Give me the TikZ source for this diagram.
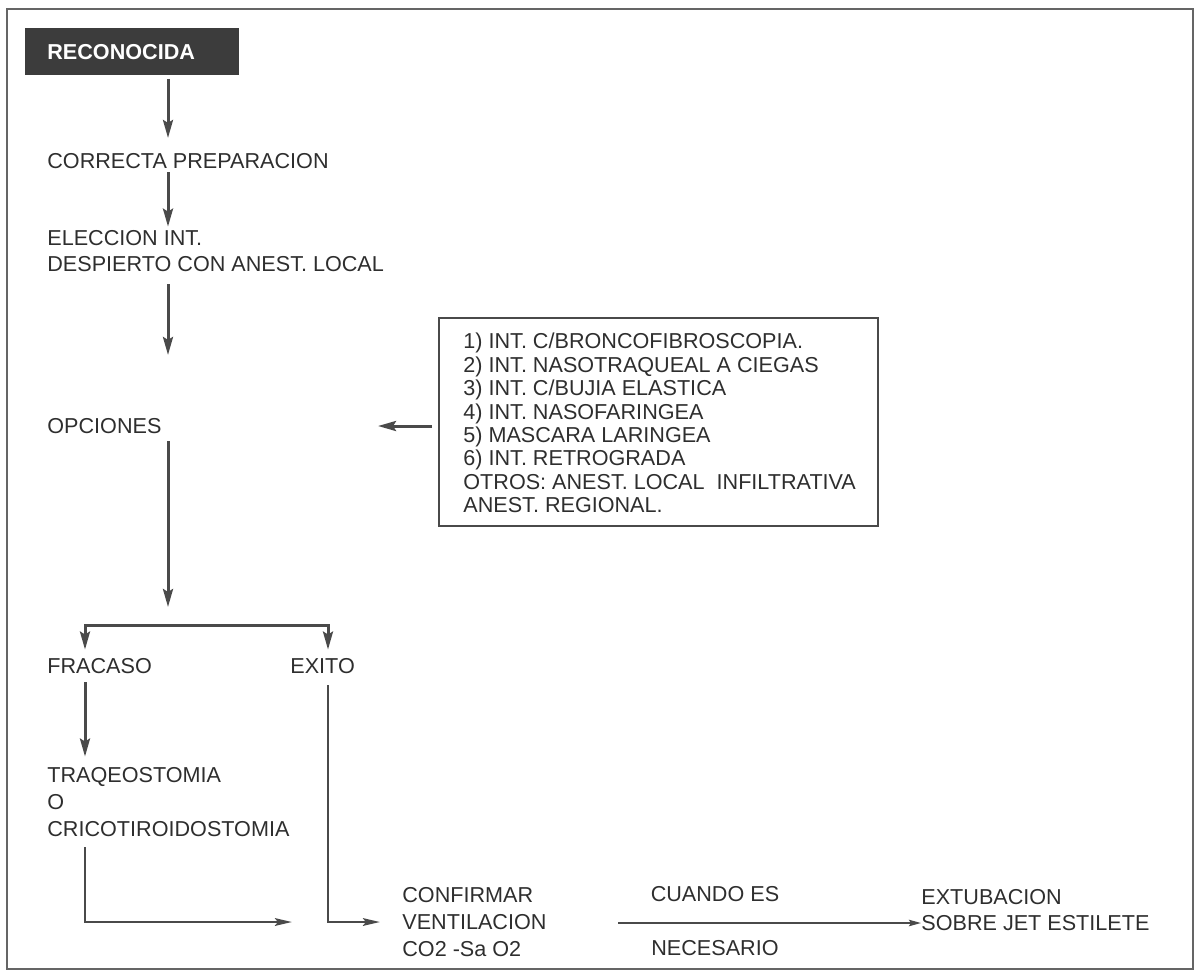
\documentclass[tikz,border=0pt]{standalone}
\usepackage{fontspec}
\setmainfont{Liberation Sans}
\usetikzlibrary{arrows.meta}
\definecolor{ink}{HTML}{2E2E2E}
\definecolor{lin}{HTML}{4A4A4A}
\definecolor{boxfill}{HTML}{3C3C3C}
\begin{document}
\begin{tikzpicture}[x=0.5pt,y=-0.5pt,
  txt/.style={anchor=west, inner sep=0pt, text=ink, align=left,
    font=\fontsize{10.8}{13.3}\selectfont},
  arr/.style={draw=lin, line width=1.5pt,
    -{Stealth[length=9pt,width=5pt,inset=1.5pt]}},
  arrh/.style={draw=lin, line width=1.3pt,
    -{Stealth[length=8.5pt,width=3.8pt,inset=1.5pt]}},
  arrs/.style={draw=lin, line width=1pt,
    -{Stealth[length=6pt,width=3.2pt,inset=1pt]}},
  dtips/.style={draw=lin, line width=1.5pt,
    {Stealth[length=9pt,width=5pt,inset=1.5pt]}-{Stealth[length=9pt,width=5pt,inset=1.5pt]}}
]
\useasboundingbox (0,0) rectangle (1200,971);
% frame
\draw[draw=lin!85, line width=0.8pt] (7,9) rectangle (1193,969);

% nodes
\node (rec) [anchor=north west, fill=boxfill, text=white, inner xsep=11pt,
  text width=85pt, minimum height=23.5pt, align=left,
  font=\fontsize{10.8}{13}\selectfont\bfseries] at (25,28) {RECONOCIDA};
\node[txt] (prep) at (47,161) {CORRECTA PREPARACION};
\node[txt] (elec) at (47,251) {ELECCION INT.\\DESPIERTO CON ANEST. LOCAL};
\node[txt] (opc) at (47,426) {OPCIONES};
\node (opts) [anchor=north west, draw=lin, line width=1pt, inner sep=0pt,
  minimum width=219.5pt, minimum height=104pt] at (438,317) {};
\node[txt, font=\fontsize{10.8}{11.7}\selectfont] (optlist) at (463,423)
  {1) INT. C/BRONCOFIBROSCOPIA.\\
   2) INT. NASOTRAQUEAL A CIEGAS\\
   3) INT. C/BUJIA ELASTICA\\
   4) INT. NASOFARINGEA\\
   5) MASCARA LARINGEA\\
   6) INT. RETROGRADA\\
   OTROS: ANEST. LOCAL \ INFILTRATIVA\\
   ANEST. REGIONAL.};
\node[txt] (fra) at (47,666) {FRACASO};
\node[txt] (exi) at (290,666) {EXITO};
\node[txt, font=\fontsize{10.8}{13.7}\selectfont] (traq) at (47,802) {TRAQEOSTOMIA\\O\\CRICOTIROIDOSTOMIA};
\node[txt, font=\fontsize{10.8}{13.5}\selectfont] (conf) at (402,922) {CONFIRMAR\\VENTILACION\\CO2 -Sa O2};
\node[txt, anchor=center] (cuando) at (715,894) {CUANDO ES};
\node[txt, anchor=center] (neces) at (715,948) {NECESARIO};
\node[txt, font=\fontsize{10.8}{13}\selectfont] (extu) at (921,910) {EXTUBACION\\SOBRE JET ESTILETE};

% helper coordinates
\coordinate (cA) at (168,0);
\coordinate (cB) at (85,0);
\coordinate (cC) at (328,0);
\coordinate (split) at (168,625);
\coordinate (optTip) at (378,426);
\coordinate (lnS) at (618,923);

% connectors
\draw[arr, shorten <=1.5pt, shorten >=7.5pt] (cA |- rec.south) -- (cA |- prep.north);
\draw[arr, shorten <=1.6pt, shorten >=1.5pt] (cA |- prep.south) -- (cA |- elec.north);
\draw[arr, shorten <=6pt, shorten >=31.5pt] (cA |- elec.south) -- (cA |- opc.north);
\draw[arr, shorten <=3.7pt, shorten >=9pt] (cA |- opc.south) -- (split);
\draw[dtips, shorten <=4.2pt, shorten >=4.2pt] (cB |- fra.north) -- (cB |- split) -- (cC |- split) -- (cC |- exi.north);
\draw[arr, shorten <=4.2pt, shorten >=5pt] (cB |- fra.south) -- (cB |- traq.north);
\draw[arrh, shorten <=5pt, shorten >=55pt] (cB |- traq.south) |- (conf.west);
\draw[arrh, shorten <=5.6pt, shorten >=11pt] (cC |- exi.south) |- (conf.west);
\draw[arr, shorten <=3pt] (opts.west |- opc.east) -- (optTip);
\draw[arrs] (lnS) -- (lnS -| extu.west);
\end{tikzpicture}
\end{document}
